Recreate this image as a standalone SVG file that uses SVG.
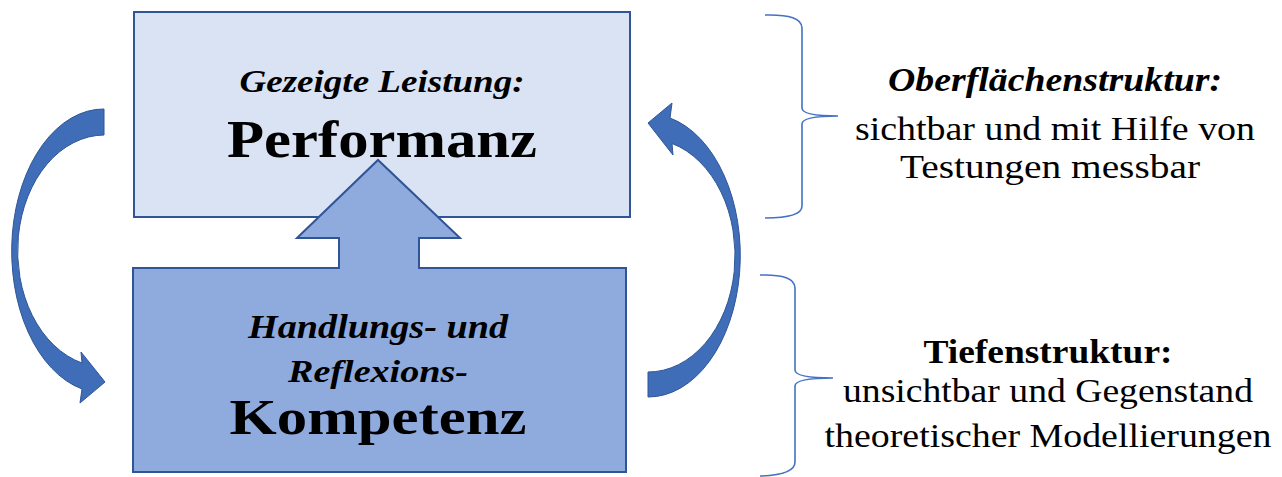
<svg xmlns="http://www.w3.org/2000/svg" width="1282" height="477" viewBox="0 0 1282 477">
<style>
  .box { stroke: #2f5597; stroke-width: 2; }
  .carrow { fill: #3f6db8; stroke: #2f5597; stroke-width: 1; }
  .brace { fill: none; stroke: #4472c4; stroke-width: 1.6; }
</style>
<rect width="1282" height="477" fill="#ffffff"/>

<g id="node-performanz">
  <rect class="box" x="134" y="12" width="496" height="205" fill="#dae3f3"/>
  <text font-family="'Liberation Serif', serif" font-weight="bold" font-style="italic" text-anchor="middle" x="382" y="92" font-size="32.5" textLength="285" lengthAdjust="spacingAndGlyphs">Gezeigte Leistung:</text>
  <text font-family="'Liberation Serif', serif" font-weight="bold" text-anchor="middle" x="382" y="157" font-size="53" textLength="310" lengthAdjust="spacingAndGlyphs">Performanz</text>
</g>

<g id="node-kompetenz">
  <rect class="box" x="133" y="268" width="493" height="204" fill="#8faadc"/>
  <text font-family="'Liberation Serif', serif" font-weight="bold" font-style="italic" text-anchor="middle" x="378" y="338" font-size="33" textLength="260" lengthAdjust="spacingAndGlyphs">Handlungs- und</text>
  <text font-family="'Liberation Serif', serif" font-weight="bold" font-style="italic" text-anchor="middle" x="378" y="382" font-size="32" textLength="180" lengthAdjust="spacingAndGlyphs">Reflexions-</text>
  <text font-family="'Liberation Serif', serif" font-weight="bold" text-anchor="middle" x="378" y="434" font-size="50" textLength="297" lengthAdjust="spacingAndGlyphs">Kompetenz</text>
</g>

<g id="connectors">
  <g id="arrow-up">
    <path d="M339,269 V238 H297 L378,160 L460,238 H419 V269 Z" fill="#8faadc" stroke="none"/>
    <path d="M339,269 V238 H297 L378,160 L460,238 H419 V269" fill="none" stroke="#2f5597" stroke-width="2"/>
  </g>
  <path id="arrow-left" class="carrow" d="M104,109 A92,142 0 0 0 82,389 L80,403 L105,382 L81,352 L82,363 A87,116 0 0 1 104,135 Z"/>
  <path id="arrow-right" class="carrow" d="M648,397 A92,141.5 0 0 0 670,118 L672,103 L648,123 L673,155 L672,143.5 A87,116.5 0 0 1 648,372 Z"/>
</g>

<g id="braces">
  <path class="brace" d="M765,15 Q802,14 802,28 V108 Q802,116 838,116 Q802,116 802,124 V206 Q802,218 765,218"/>
  <path class="brace" d="M760,275 Q795,274 795,288 V370 Q795,378 833,378 Q795,378 795,386 V462 Q795,475 760,476"/>
</g>

<g id="label-oberflaeche">
  <text font-family="'Liberation Serif', serif" font-weight="bold" font-style="italic" text-anchor="middle" x="1055" y="91" font-size="33" textLength="334" lengthAdjust="spacingAndGlyphs">Oberflächenstruktur:</text>
  <text font-family="'Liberation Serif', serif" text-anchor="middle" x="1055" y="140" font-size="33" textLength="400" lengthAdjust="spacingAndGlyphs">sichtbar und mit Hilfe von</text>
  <text font-family="'Liberation Serif', serif" text-anchor="middle" x="1050" y="178" font-size="33" textLength="300" lengthAdjust="spacingAndGlyphs">Testungen messbar</text>
</g>

<g id="label-tiefe">
  <text font-family="'Liberation Serif', serif" font-weight="bold" text-anchor="middle" x="1048" y="363" font-size="33" textLength="249" lengthAdjust="spacingAndGlyphs">Tiefenstruktur:</text>
  <text font-family="'Liberation Serif', serif" text-anchor="middle" x="1048" y="402" font-size="33" textLength="410" lengthAdjust="spacingAndGlyphs">unsichtbar und Gegenstand</text>
  <text font-family="'Liberation Serif', serif" text-anchor="middle" x="1048" y="447" font-size="33" textLength="447" lengthAdjust="spacingAndGlyphs">theoretischer Modellierungen</text>
</g>
</svg>
